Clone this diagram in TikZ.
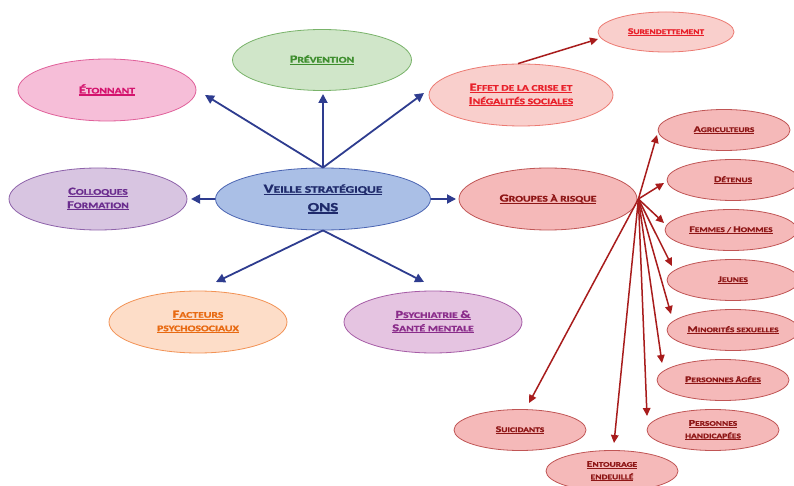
\documentclass[tikz,border=0pt]{standalone}
\usepackage{fontspec}
\setmainfont{Carlito}
\newfontfamily\capsfont[FakeStretch=1.35, BoldFeatures={FakeBold=1.3}]{Carlito}
\usetikzlibrary{shapes.geometric,arrows.meta}
\definecolor{etoF}{HTML}{F6BED8}\definecolor{etoD}{HTML}{E0609A}\definecolor{etoT}{HTML}{D4146E}
\definecolor{preF}{HTML}{D0E6C9}\definecolor{preD}{HTML}{79B36A}\definecolor{preT}{HTML}{3E8E2E}
\definecolor{effF}{HTML}{F9CFCC}\definecolor{effD}{HTML}{EC7A72}\definecolor{effT}{HTML}{E8202A}
\definecolor{colF}{HTML}{D8C5E1}\definecolor{colD}{HTML}{8E62AA}\definecolor{colT}{HTML}{6A2C8E}
\definecolor{veiF}{HTML}{AABFE6}\definecolor{veiD}{HTML}{4A64B2}\definecolor{veiT}{HTML}{1F2A6B}
\definecolor{grpF}{HTML}{F5B9B9}\definecolor{grpD}{HTML}{C05555}\definecolor{grpT}{HTML}{8E1616}
\definecolor{facF}{HTML}{FDDDC8}\definecolor{facD}{HTML}{F29255}\definecolor{facT}{HTML}{E86A12}
\definecolor{psyF}{HTML}{E5C4E1}\definecolor{psyD}{HTML}{A65CA6}\definecolor{psyT}{HTML}{8A2C8A}
\definecolor{blueA}{HTML}{2E3C8F}\definecolor{redA}{HTML}{A81C1C}
\newsavebox\ulbox
\newcommand\ul[1]{\sbox\ulbox{#1}\usebox\ulbox\llap{\rule[-0.24em]{\wd\ulbox}{0.13em}}}
\makeatletter
\newcommand\B[1]{{\fontsize{\fpeval{1.25*\f@size}}{\f@baselineskip}\selectfont #1}}
\makeatother
\begin{document}
\begin{tikzpicture}[x=1pt,y=-1pt,
  ell/.style={ellipse, draw, inner sep=0pt, line width=0.8pt, align=center},
  col/.style n args={3}{fill=#1, draw=#2, text=#3},
  bigtxt/.style={font=\capsfont\bfseries\fontsize{10}{18.5}\selectfont},
  midtxt/.style={font=\capsfont\bfseries\fontsize{8.6}{13.5}\selectfont},
  smalltxt/.style={font=\capsfont\bfseries\fontsize{7}{12.5}\selectfont},
  mainsize/.style={minimum width=178, minimum height=62},
  leafsize/.style={minimum width=132, minimum height=41},
  leaf/.style={ell, leafsize, smalltxt, col={grpF}{grpD}{grpT}},
  bluearrow/.style={draw=blueA, line width=1.8pt, -{Triangle[length=9pt,width=9pt]}},
  redarrow/.style={draw=redA, line width=1.5pt, -{Triangle[length=8pt,width=7.5pt]}}
]
\useasboundingbox (0,0) rectangle (794,486);
\fill[white] (0,0) rectangle (794,486);

\node[ell, midtxt, mainsize, col={etoF}{etoD}{etoT}] (eto) at (107,90) {\ul{\B{É}TONNANT}};
\node[ell, midtxt, minimum width=179, minimum height=61, col={preF}{preD}{preT}] (pre) at (322,60) {\ul{\B{P}RÉVENTION}};
\node[ell, midtxt, minimum width=184, minimum height=62, col={effF}{effD}{effT}] (eff) at (521,95) {\ul{\B{E}FFET DE LA CRISE ET}\\\ul{\B{I}NÉGALITÉS SOCIALES}};
\node[ell, smalltxt, minimum width=136, minimum height=40, col={effF}{effD}{effT}] (sur) at (666,32) {\ul{\B{S}URENDETTEMENT}};
\node[ell, midtxt, mainsize, col={colF}{colD}{colT}] (col) at (98,199) {\ul{\B{C}OLLOQUES}\\\ul{\B{F}ORMATION}};
\node[ell, bigtxt, minimum width=215, minimum height=62, col={veiF}{veiD}{veiT}] (vei) at (323,199) {\ul{\B{V}EILLE STRATÉGIQUE}\\\ul{\B{ONS}}};
\node[ell, midtxt, mainsize, col={grpF}{grpD}{grpT}] (grp) at (548,199) {\ul{\B{G}ROUPES À RISQUE}};
\node[ell, midtxt, mainsize, col={facF}{facD}{facT}] (fac) at (198,322) {\ul{\B{F}ACTEURS}\\\ul{PSYCHOSOCIAUX}};
\node[ell, midtxt, mainsize, col={psyF}{psyD}{psyT}] (psy) at (433,322) {\ul{\B{P}SYCHIATRIE \B{\&}}\\\ul{\B{S}ANTÉ MENTALE}};

\node[leaf] (agr) at (724,130) {\ul{\B{A}GRICULTEURS}};
\node[leaf] (det) at (733,180) {\ul{\B{D}ÉTENUS}};
\node[leaf] (fem) at (731,230) {\ul{\B{F}EMMES / \B{H}OMMES}};
\node[leaf] (jeu) at (733,280) {\ul{\B{J}EUNES}};
\node[leaf] (min) at (733,330) {\ul{\B{M}INORITÉS SEXUELLES}};
\node[leaf] (age) at (723,380) {\ul{\B{P}ERSONNES ÂGÉES}};
\node[leaf] (han) at (713,430) {\ul{\B{P}ERSONNES}\\\ul{HANDICAPÉES}};
\node[leaf] (sui) at (520,430) {\ul{\B{S}UICIDANTS}};
\node[leaf] (ent) at (612,471) {\ul{\B{E}NTOURAGE}\\\ul{ENDEUILLÉ}};

% arrow tips
\coordinate (tEto) at (205,95);
\coordinate (tPre) at (323,94);
\coordinate (tEff) at (424,93);
\coordinate (tCol) at (191,199);
\coordinate (tGrp) at (456,199);
\coordinate (tFac) at (216,282);
\coordinate (tPsy) at (424,282);
\coordinate (tSur) at (598,39);
\coordinate (tAgr) at (657,135);
\coordinate (tDet) at (664,183);
\coordinate (tFem) at (664,223);
\coordinate (tJeu) at (672,266);
\coordinate (tMin) at (671,314);
\coordinate (tAge) at (662,363);
\coordinate (tHan) at (647,416);
\coordinate (tEnt) at (614,443);
\coordinate (tSui) at (529,403);

\draw[bluearrow] (vei.north) -- (tEto);
\draw[bluearrow] (vei.north) -- (tPre);
\draw[bluearrow] (vei.north) -- (tEff);
\draw[bluearrow] (vei.west) -- (tCol);
\draw[bluearrow] (vei.east) -- (tGrp);
\draw[bluearrow] (vei.south) -- (tFac);
\draw[bluearrow] (vei.south) -- (tPsy);

\draw[redarrow] (eff.north) ++(-3,0) -- (tSur);
\foreach \t in {tAgr,tDet,tFem,tJeu,tMin,tAge,tHan,tEnt,tSui}
  \draw[redarrow] ([xshift=1pt]grp.east) -- (\t);
\end{tikzpicture}
\end{document}
